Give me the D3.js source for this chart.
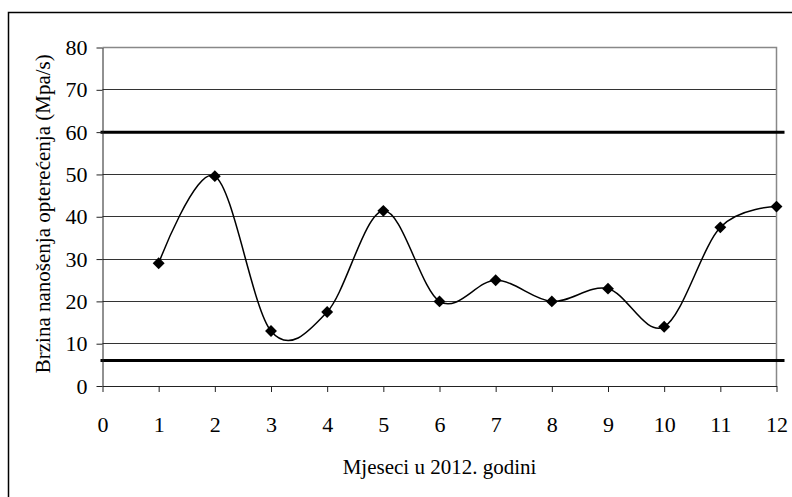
<!DOCTYPE html>
<html>
  <head>
    <meta charset="utf-8">
    <title>Brzina nanosenja opterecenja</title>
    <script src="https://d3js.org/d3.v7.min.js"></script>
    <style>
      body { margin: 0; background: white; }
    </style>
  </head>
  <body>
    <script>
      var w = 792;
      var h = 497;
      var margin = {top: 47.5, right: 15.5, bottom: 111, left: 102.5};
      var innerWidth = w - margin.left - margin.right;
      var innerHeight = h - margin.top - margin.bottom;
      var serif = "'Liberation Serif'";

      // data
      var months = [1, 2, 3, 4, 5, 6, 7, 8, 9, 10, 11, 12];
      var speed = [29, 49.6, 13, 17.5, 41.4, 20, 25, 20, 23, 14, 37.5, 42.4];
      var limits = [60, 6];
      var xTicks = [0, 1, 2, 3, 4, 5, 6, 7, 8, 9, 10, 11, 12];
      var yTicks = [0, 10, 20, 30, 40, 50, 60, 70, 80];

      var svg = d3.select("body")
          .append("svg")
          .attr("width", w)
          .attr("height", h);

      svg.append("rect")
          .attr("x", 8.5)
          .attr("y", 12.5)
          .attr("width", w)
          .attr("height", h)
          .attr("fill", "white")
          .attr("stroke", "black")
          .attr("stroke-width", 1.5);

      var xScale = d3.scaleLinear()
          .domain([0, 12])
          .range([0, innerWidth]);

      var yScale = d3.scaleLinear()
          .domain([0, 80])
          .range([innerHeight, 0]);

      var g = svg.append("g")
          .attr("transform", `translate(${margin.left}, ${margin.top})`);

      // grid lines
      g.append("g")
          .selectAll("line")
          .data(yTicks.filter(function(d) { return d > 0 && d < 80 }))
          .enter().append("line")
          .attr("x1", 0)
          .attr("x2", innerWidth)
          .attr("y1", function(d) { return Math.round(yScale(d)) })
          .attr("y2", function(d) { return Math.round(yScale(d)) })
          .style("stroke", "#333")
          .style("stroke-width", "1px");

      // plot area border (top / right)
      g.append("path")
          .attr("d", `M0,0H${innerWidth}V${innerHeight}`)
          .attr("fill", "none")
          .style("stroke", "#888")
          .style("stroke-width", "1.5px");

      // limit lines
      g.append("g")
          .selectAll("line")
          .data(limits)
          .enter().append("line")
          .attr("x1", -2)
          .attr("x2", innerWidth + 8)
          .attr("y1", function(d) { return yScale(d) })
          .attr("y2", function(d) { return yScale(d) })
          .style("stroke", "black")
          .style("stroke-width", "3px");

      var xAxis = d3.axisBottom(xScale)
          .tickValues(xTicks)
          .tickSizeInner(6)
          .tickSizeOuter(0)
          .tickPadding(24);

      var yAxis = d3.axisLeft(yScale)
          .tickValues(yTicks)
          .tickSizeInner(6)
          .tickSizeOuter(0)
          .tickPadding(9);

      var gx = g.append("g")
          .attr("transform", `translate(0, ${innerHeight})`)
          .call(xAxis);

      var gy = g.append("g")
          .call(yAxis);

      [gx, gy].forEach(function(a) {
        a.attr("font-family", serif).attr("font-size", 22);
        a.selectAll("text")
            .style("font-family", serif)
            .style("font-size", "22px")
            .attr("fill", "black");
        a.selectAll("line").style("stroke", "#222");
        a.select(".domain").style("stroke", "#222");
      });

      // smoothed line
      var line = d3.line()
          .x(function(d, i) { return xScale(months[i]) })
          .y(function(d) { return yScale(d) })
          .curve(d3.curveCardinal.tension(0));

      g.append("path")
          .datum(speed)
          .attr("d", line)
          .attr("fill", "none")
          .style("stroke", "black")
          .style("stroke-width", "1.5px");

      // diamond markers
      g.append("g")
          .selectAll("path")
          .data(speed)
          .enter().append("path")
          .attr("d", d3.symbol().type(d3.symbolDiamond2).size(90))
          .attr("transform", function(d, i) {
            return `translate(${xScale(months[i])}, ${yScale(d)})`;
          })
          .attr("fill", "black");

      // axis titles
      svg.append("text")
          .attr("x", margin.left + innerWidth / 2)
          .attr("y", 474)
          .attr("text-anchor", "middle")
          .style("font-family", serif)
          .style("font-size", "21px")
          .text("Mjeseci u 2012. godini");

      svg.append("text")
          .attr("transform", `translate(50, ${margin.top + innerHeight / 2 - 3}) rotate(-90)`)
          .attr("text-anchor", "middle")
          .style("font-family", serif)
          .style("font-size", "21px")
          .text("Brzina nanošenja opterećenja (Mpa/s)");
    </script>
  </body>
</html>
